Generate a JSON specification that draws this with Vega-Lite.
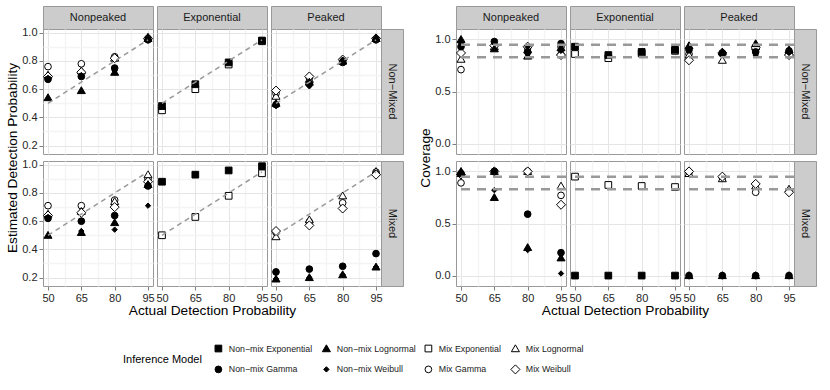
{
"$schema":"https://vega.github.io/schema/vega-lite/v6.json",
"padding":{"left":5,"top":5,"right":2,"bottom":2},
"columns":13,"spacing":0,"bounds":"flush","align":"each",
"resolve":{"scale":{"x":"independent","y":"independent","shape":"shared","fill":"shared","stroke":"shared"}},
"datasets":{
"diag":[{"a":50,"v":0.5},{"a":95,"v":0.95}],
"covl":[{"v":0.95},{"v":0.83}],
"est":[
{"d":"NP","m":"NM","model":"Mix Gamma","a":50,"v":0.76},{"d":"NP","m":"NM","model":"Mix Gamma","a":65,"v":0.78},{"d":"NP","m":"NM","model":"Mix Gamma","a":80,"v":0.83},{"d":"NP","m":"NM","model":"Mix Gamma","a":95,"v":0.96},
{"d":"NP","m":"NM","model":"Mix Lognormal","a":50,"v":0.70},{"d":"NP","m":"NM","model":"Mix Lognormal","a":65,"v":0.73},{"d":"NP","m":"NM","model":"Mix Lognormal","a":80,"v":0.82},{"d":"NP","m":"NM","model":"Mix Lognormal","a":95,"v":0.97},
{"d":"NP","m":"NM","model":"Mix Weibull","a":50,"v":0.69},{"d":"NP","m":"NM","model":"Mix Weibull","a":65,"v":0.72},{"d":"NP","m":"NM","model":"Mix Weibull","a":80,"v":0.82},{"d":"NP","m":"NM","model":"Mix Weibull","a":95,"v":0.96},
{"d":"NP","m":"NM","model":"Non−mix Gamma","a":50,"v":0.67},{"d":"NP","m":"NM","model":"Non−mix Gamma","a":65,"v":0.69},{"d":"NP","m":"NM","model":"Non−mix Gamma","a":80,"v":0.75},{"d":"NP","m":"NM","model":"Non−mix Gamma","a":95,"v":0.95},
{"d":"NP","m":"NM","model":"Non−mix Lognormal","a":50,"v":0.54},{"d":"NP","m":"NM","model":"Non−mix Lognormal","a":65,"v":0.59},{"d":"NP","m":"NM","model":"Non−mix Lognormal","a":80,"v":0.72},{"d":"NP","m":"NM","model":"Non−mix Lognormal","a":95,"v":0.96},
{"d":"NP","m":"NM","model":"Non−mix Weibull","a":50,"v":0.68},{"d":"NP","m":"NM","model":"Non−mix Weibull","a":65,"v":0.70},{"d":"NP","m":"NM","model":"Non−mix Weibull","a":80,"v":0.73},{"d":"NP","m":"NM","model":"Non−mix Weibull","a":95,"v":0.96},
{"d":"NP","m":"MX","model":"Mix Gamma","a":50,"v":0.71},{"d":"NP","m":"MX","model":"Mix Gamma","a":65,"v":0.71},{"d":"NP","m":"MX","model":"Mix Gamma","a":80,"v":0.75},{"d":"NP","m":"MX","model":"Mix Gamma","a":95,"v":0.90},
{"d":"NP","m":"MX","model":"Mix Lognormal","a":50,"v":0.65},{"d":"NP","m":"MX","model":"Mix Lognormal","a":65,"v":0.67},{"d":"NP","m":"MX","model":"Mix Lognormal","a":80,"v":0.74},{"d":"NP","m":"MX","model":"Mix Lognormal","a":95,"v":0.93},
{"d":"NP","m":"MX","model":"Mix Weibull","a":50,"v":0.64},{"d":"NP","m":"MX","model":"Mix Weibull","a":65,"v":0.66},{"d":"NP","m":"MX","model":"Mix Weibull","a":80,"v":0.70},{"d":"NP","m":"MX","model":"Mix Weibull","a":95,"v":0.88},
{"d":"NP","m":"MX","model":"Non−mix Gamma","a":50,"v":0.62},{"d":"NP","m":"MX","model":"Non−mix Gamma","a":65,"v":0.60},{"d":"NP","m":"MX","model":"Non−mix Gamma","a":80,"v":0.64},{"d":"NP","m":"MX","model":"Non−mix Gamma","a":95,"v":0.85},
{"d":"NP","m":"MX","model":"Non−mix Lognormal","a":50,"v":0.50},{"d":"NP","m":"MX","model":"Non−mix Lognormal","a":65,"v":0.52},{"d":"NP","m":"MX","model":"Non−mix Lognormal","a":80,"v":0.59},{"d":"NP","m":"MX","model":"Non−mix Lognormal","a":95,"v":0.86},
{"d":"NP","m":"MX","model":"Non−mix Weibull","a":50,"v":0.63},{"d":"NP","m":"MX","model":"Non−mix Weibull","a":65,"v":0.53},{"d":"NP","m":"MX","model":"Non−mix Weibull","a":80,"v":0.54},{"d":"NP","m":"MX","model":"Non−mix Weibull","a":95,"v":0.71},
{"d":"EX","m":"NM","model":"Mix Exponential","a":50,"v":0.45},{"d":"EX","m":"NM","model":"Mix Exponential","a":65,"v":0.60},{"d":"EX","m":"NM","model":"Mix Exponential","a":80,"v":0.775},{"d":"EX","m":"NM","model":"Mix Exponential","a":95,"v":0.94},
{"d":"EX","m":"NM","model":"Non−mix Exponential","a":50,"v":0.48},{"d":"EX","m":"NM","model":"Non−mix Exponential","a":65,"v":0.635},{"d":"EX","m":"NM","model":"Non−mix Exponential","a":80,"v":0.79},{"d":"EX","m":"NM","model":"Non−mix Exponential","a":95,"v":0.945},
{"d":"EX","m":"MX","model":"Mix Exponential","a":50,"v":0.50},{"d":"EX","m":"MX","model":"Mix Exponential","a":65,"v":0.63},{"d":"EX","m":"MX","model":"Mix Exponential","a":80,"v":0.78},{"d":"EX","m":"MX","model":"Mix Exponential","a":95,"v":0.94},
{"d":"EX","m":"MX","model":"Non−mix Exponential","a":50,"v":0.88},{"d":"EX","m":"MX","model":"Non−mix Exponential","a":65,"v":0.93},{"d":"EX","m":"MX","model":"Non−mix Exponential","a":80,"v":0.96},{"d":"EX","m":"MX","model":"Non−mix Exponential","a":95,"v":0.99},
{"d":"PK","m":"NM","model":"Mix Gamma","a":50,"v":0.57},{"d":"PK","m":"NM","model":"Mix Gamma","a":65,"v":0.68},{"d":"PK","m":"NM","model":"Mix Gamma","a":80,"v":0.80},{"d":"PK","m":"NM","model":"Mix Gamma","a":95,"v":0.955},
{"d":"PK","m":"NM","model":"Mix Lognormal","a":50,"v":0.55},{"d":"PK","m":"NM","model":"Mix Lognormal","a":65,"v":0.67},{"d":"PK","m":"NM","model":"Mix Lognormal","a":80,"v":0.80},{"d":"PK","m":"NM","model":"Mix Lognormal","a":95,"v":0.96},
{"d":"PK","m":"NM","model":"Mix Weibull","a":50,"v":0.59},{"d":"PK","m":"NM","model":"Mix Weibull","a":65,"v":0.69},{"d":"PK","m":"NM","model":"Mix Weibull","a":80,"v":0.81},{"d":"PK","m":"NM","model":"Mix Weibull","a":95,"v":0.96},
{"d":"PK","m":"NM","model":"Non−mix Gamma","a":50,"v":0.49},{"d":"PK","m":"NM","model":"Non−mix Gamma","a":65,"v":0.64},{"d":"PK","m":"NM","model":"Non−mix Gamma","a":80,"v":0.79},{"d":"PK","m":"NM","model":"Non−mix Gamma","a":95,"v":0.95},
{"d":"PK","m":"NM","model":"Non−mix Lognormal","a":50,"v":0.50},{"d":"PK","m":"NM","model":"Non−mix Lognormal","a":65,"v":0.65},{"d":"PK","m":"NM","model":"Non−mix Lognormal","a":80,"v":0.80},{"d":"PK","m":"NM","model":"Non−mix Lognormal","a":95,"v":0.96},
{"d":"PK","m":"NM","model":"Non−mix Weibull","a":50,"v":0.48},{"d":"PK","m":"NM","model":"Non−mix Weibull","a":65,"v":0.62},{"d":"PK","m":"NM","model":"Non−mix Weibull","a":80,"v":0.81},{"d":"PK","m":"NM","model":"Non−mix Weibull","a":95,"v":0.96},
{"d":"PK","m":"MX","model":"Mix Gamma","a":50,"v":0.52},{"d":"PK","m":"MX","model":"Mix Gamma","a":65,"v":0.595},{"d":"PK","m":"MX","model":"Mix Gamma","a":80,"v":0.73},{"d":"PK","m":"MX","model":"Mix Gamma","a":95,"v":0.948},
{"d":"PK","m":"MX","model":"Mix Lognormal","a":50,"v":0.49},{"d":"PK","m":"MX","model":"Mix Lognormal","a":65,"v":0.61},{"d":"PK","m":"MX","model":"Mix Lognormal","a":80,"v":0.78},{"d":"PK","m":"MX","model":"Mix Lognormal","a":95,"v":0.953},
{"d":"PK","m":"MX","model":"Mix Weibull","a":50,"v":0.53},{"d":"PK","m":"MX","model":"Mix Weibull","a":65,"v":0.57},{"d":"PK","m":"MX","model":"Mix Weibull","a":80,"v":0.69},{"d":"PK","m":"MX","model":"Mix Weibull","a":95,"v":0.93},
{"d":"PK","m":"MX","model":"Non−mix Gamma","a":50,"v":0.24},{"d":"PK","m":"MX","model":"Non−mix Gamma","a":65,"v":0.26},{"d":"PK","m":"MX","model":"Non−mix Gamma","a":80,"v":0.28},{"d":"PK","m":"MX","model":"Non−mix Gamma","a":95,"v":0.37},
{"d":"PK","m":"MX","model":"Non−mix Weibull","a":50,"v":0.19},{"d":"PK","m":"MX","model":"Non−mix Weibull","a":65,"v":0.20},{"d":"PK","m":"MX","model":"Non−mix Weibull","a":80,"v":0.22},{"d":"PK","m":"MX","model":"Non−mix Weibull","a":95,"v":0.275},
{"d":"PK","m":"MX","model":"Non−mix Lognormal","a":50,"v":0.19},{"d":"PK","m":"MX","model":"Non−mix Lognormal","a":65,"v":0.20},{"d":"PK","m":"MX","model":"Non−mix Lognormal","a":80,"v":0.22},{"d":"PK","m":"MX","model":"Non−mix Lognormal","a":95,"v":0.275}
],
"cov":[
{"d":"NP","m":"NM","model":"Mix Gamma","a":50,"v":0.71},{"d":"NP","m":"NM","model":"Mix Gamma","a":65,"v":0.94},{"d":"NP","m":"NM","model":"Mix Gamma","a":80,"v":0.92},{"d":"NP","m":"NM","model":"Mix Gamma","a":95,"v":0.93},
{"d":"NP","m":"NM","model":"Mix Lognormal","a":50,"v":0.81},{"d":"NP","m":"NM","model":"Mix Lognormal","a":65,"v":0.93},{"d":"NP","m":"NM","model":"Mix Lognormal","a":80,"v":0.90},{"d":"NP","m":"NM","model":"Mix Lognormal","a":95,"v":0.88},
{"d":"NP","m":"NM","model":"Mix Weibull","a":50,"v":0.87},{"d":"NP","m":"NM","model":"Mix Weibull","a":65,"v":0.94},{"d":"NP","m":"NM","model":"Mix Weibull","a":80,"v":0.93},{"d":"NP","m":"NM","model":"Mix Weibull","a":95,"v":0.85},
{"d":"NP","m":"NM","model":"Non−mix Gamma","a":50,"v":0.93},{"d":"NP","m":"NM","model":"Non−mix Gamma","a":65,"v":0.98},{"d":"NP","m":"NM","model":"Non−mix Gamma","a":80,"v":0.88},{"d":"NP","m":"NM","model":"Non−mix Gamma","a":95,"v":0.96},
{"d":"NP","m":"NM","model":"Non−mix Lognormal","a":50,"v":1.0},{"d":"NP","m":"NM","model":"Non−mix Lognormal","a":65,"v":0.91},{"d":"NP","m":"NM","model":"Non−mix Lognormal","a":80,"v":0.84},{"d":"NP","m":"NM","model":"Non−mix Lognormal","a":95,"v":0.92},
{"d":"NP","m":"NM","model":"Non−mix Weibull","a":50,"v":0.96},{"d":"NP","m":"NM","model":"Non−mix Weibull","a":65,"v":0.96},{"d":"NP","m":"NM","model":"Non−mix Weibull","a":80,"v":0.93},{"d":"NP","m":"NM","model":"Non−mix Weibull","a":95,"v":0.89},
{"d":"NP","m":"MX","model":"Mix Gamma","a":50,"v":0.89},{"d":"NP","m":"MX","model":"Mix Gamma","a":65,"v":1.0},{"d":"NP","m":"MX","model":"Mix Gamma","a":80,"v":1.0},{"d":"NP","m":"MX","model":"Mix Gamma","a":95,"v":0.77},
{"d":"NP","m":"MX","model":"Mix Lognormal","a":50,"v":0.98},{"d":"NP","m":"MX","model":"Mix Lognormal","a":65,"v":1.0},{"d":"NP","m":"MX","model":"Mix Lognormal","a":80,"v":1.0},{"d":"NP","m":"MX","model":"Mix Lognormal","a":95,"v":0.86},
{"d":"NP","m":"MX","model":"Mix Weibull","a":50,"v":0.97},{"d":"NP","m":"MX","model":"Mix Weibull","a":65,"v":1.0},{"d":"NP","m":"MX","model":"Mix Weibull","a":80,"v":1.0},{"d":"NP","m":"MX","model":"Mix Weibull","a":95,"v":0.68},
{"d":"NP","m":"MX","model":"Non−mix Gamma","a":50,"v":0.98},{"d":"NP","m":"MX","model":"Non−mix Gamma","a":65,"v":1.0},{"d":"NP","m":"MX","model":"Non−mix Gamma","a":80,"v":0.59},{"d":"NP","m":"MX","model":"Non−mix Gamma","a":95,"v":0.22},
{"d":"NP","m":"MX","model":"Non−mix Lognormal","a":50,"v":1.0},{"d":"NP","m":"MX","model":"Non−mix Lognormal","a":65,"v":0.75},{"d":"NP","m":"MX","model":"Non−mix Lognormal","a":80,"v":0.27},{"d":"NP","m":"MX","model":"Non−mix Lognormal","a":95,"v":0.17},
{"d":"NP","m":"MX","model":"Non−mix Weibull","a":50,"v":0.99},{"d":"NP","m":"MX","model":"Non−mix Weibull","a":65,"v":0.82},{"d":"NP","m":"MX","model":"Non−mix Weibull","a":80,"v":0.245},{"d":"NP","m":"MX","model":"Non−mix Weibull","a":95,"v":0.02},
{"d":"EX","m":"NM","model":"Mix Exponential","a":50,"v":0.86},{"d":"EX","m":"NM","model":"Mix Exponential","a":65,"v":0.82},{"d":"EX","m":"NM","model":"Mix Exponential","a":80,"v":0.865},{"d":"EX","m":"NM","model":"Mix Exponential","a":95,"v":0.89},
{"d":"EX","m":"NM","model":"Non−mix Exponential","a":50,"v":0.93},{"d":"EX","m":"NM","model":"Non−mix Exponential","a":65,"v":0.85},{"d":"EX","m":"NM","model":"Non−mix Exponential","a":80,"v":0.88},{"d":"EX","m":"NM","model":"Non−mix Exponential","a":95,"v":0.90},
{"d":"EX","m":"MX","model":"Mix Exponential","a":50,"v":0.95},{"d":"EX","m":"MX","model":"Mix Exponential","a":65,"v":0.87},{"d":"EX","m":"MX","model":"Mix Exponential","a":80,"v":0.86},{"d":"EX","m":"MX","model":"Mix Exponential","a":95,"v":0.85},
{"d":"EX","m":"MX","model":"Non−mix Exponential","a":50,"v":0},{"d":"EX","m":"MX","model":"Non−mix Exponential","a":65,"v":0},{"d":"EX","m":"MX","model":"Non−mix Exponential","a":80,"v":0},{"d":"EX","m":"MX","model":"Non−mix Exponential","a":95,"v":0},
{"d":"PK","m":"NM","model":"Mix Gamma","a":50,"v":0.86},{"d":"PK","m":"NM","model":"Mix Gamma","a":65,"v":0.86},{"d":"PK","m":"NM","model":"Mix Gamma","a":80,"v":0.91},{"d":"PK","m":"NM","model":"Mix Gamma","a":95,"v":0.87},
{"d":"PK","m":"NM","model":"Mix Lognormal","a":50,"v":0.85},{"d":"PK","m":"NM","model":"Mix Lognormal","a":65,"v":0.80},{"d":"PK","m":"NM","model":"Mix Lognormal","a":80,"v":0.93},{"d":"PK","m":"NM","model":"Mix Lognormal","a":95,"v":0.88},
{"d":"PK","m":"NM","model":"Mix Weibull","a":50,"v":0.80},{"d":"PK","m":"NM","model":"Mix Weibull","a":65,"v":0.87},{"d":"PK","m":"NM","model":"Mix Weibull","a":80,"v":0.92},{"d":"PK","m":"NM","model":"Mix Weibull","a":95,"v":0.85},
{"d":"PK","m":"NM","model":"Non−mix Gamma","a":50,"v":0.90},{"d":"PK","m":"NM","model":"Non−mix Gamma","a":65,"v":0.87},{"d":"PK","m":"NM","model":"Non−mix Gamma","a":80,"v":0.88},{"d":"PK","m":"NM","model":"Non−mix Gamma","a":95,"v":0.89},
{"d":"PK","m":"NM","model":"Non−mix Lognormal","a":50,"v":0.94},{"d":"PK","m":"NM","model":"Non−mix Lognormal","a":65,"v":0.88},{"d":"PK","m":"NM","model":"Non−mix Lognormal","a":80,"v":0.96},{"d":"PK","m":"NM","model":"Non−mix Lognormal","a":95,"v":0.90},
{"d":"PK","m":"NM","model":"Non−mix Weibull","a":50,"v":0.91},{"d":"PK","m":"NM","model":"Non−mix Weibull","a":65,"v":0.86},{"d":"PK","m":"NM","model":"Non−mix Weibull","a":80,"v":0.85},{"d":"PK","m":"NM","model":"Non−mix Weibull","a":95,"v":0.87},
{"d":"PK","m":"MX","model":"Mix Gamma","a":50,"v":0.99},{"d":"PK","m":"MX","model":"Mix Gamma","a":65,"v":0.94},{"d":"PK","m":"MX","model":"Mix Gamma","a":80,"v":0.80},{"d":"PK","m":"MX","model":"Mix Gamma","a":95,"v":0.81},
{"d":"PK","m":"MX","model":"Mix Lognormal","a":50,"v":0.98},{"d":"PK","m":"MX","model":"Mix Lognormal","a":65,"v":0.93},{"d":"PK","m":"MX","model":"Mix Lognormal","a":80,"v":0.86},{"d":"PK","m":"MX","model":"Mix Lognormal","a":95,"v":0.83},
{"d":"PK","m":"MX","model":"Mix Weibull","a":50,"v":1.0},{"d":"PK","m":"MX","model":"Mix Weibull","a":65,"v":0.95},{"d":"PK","m":"MX","model":"Mix Weibull","a":80,"v":0.88},{"d":"PK","m":"MX","model":"Mix Weibull","a":95,"v":0.80},
{"d":"PK","m":"MX","model":"Non−mix Gamma","a":50,"v":0},{"d":"PK","m":"MX","model":"Non−mix Gamma","a":65,"v":0},{"d":"PK","m":"MX","model":"Non−mix Gamma","a":80,"v":0},{"d":"PK","m":"MX","model":"Non−mix Gamma","a":95,"v":0},
{"d":"PK","m":"MX","model":"Non−mix Weibull","a":50,"v":0},{"d":"PK","m":"MX","model":"Non−mix Weibull","a":65,"v":0},{"d":"PK","m":"MX","model":"Non−mix Weibull","a":80,"v":0},{"d":"PK","m":"MX","model":"Non−mix Weibull","a":95,"v":0},
{"d":"PK","m":"MX","model":"Non−mix Lognormal","a":50,"v":0},{"d":"PK","m":"MX","model":"Non−mix Lognormal","a":65,"v":0},{"d":"PK","m":"MX","model":"Non−mix Lognormal","a":80,"v":0},{"d":"PK","m":"MX","model":"Non−mix Lognormal","a":95,"v":0}
]
},
"concat":[
{"data":{"values":[{"label":"Nonpeaked"}]},"mark":{"type":"text","fontSize":11,"color":"#1a1a1a"},"encoding":{"text":{"field":"label","type":"nominal"}},"width":110,"height":23,"view":{"fill":"#cccccc","stroke":"#999999"}},
{"data":{"values":[]},"mark":"point","width":4,"height":1,"view":{"stroke":null}},
{"data":{"values":[{"label":"Exponential"}]},"mark":{"type":"text","fontSize":11,"color":"#1a1a1a"},"encoding":{"text":{"field":"label","type":"nominal"}},"width":110,"height":23,"view":{"fill":"#cccccc","stroke":"#999999"}},
{"data":{"values":[]},"mark":"point","width":4,"height":1,"view":{"stroke":null}},
{"data":{"values":[{"label":"Peaked"}]},"mark":{"type":"text","fontSize":11,"color":"#1a1a1a"},"encoding":{"text":{"field":"label","type":"nominal"}},"width":110,"height":23,"view":{"fill":"#cccccc","stroke":"#999999"}},
{"data":{"values":[]},"mark":"point","width":22,"height":1,"view":{"stroke":null}},
{"data":{"values":[]},"mark":"point","width":53,"height":1,"view":{"stroke":null}},
{"data":{"values":[{"label":"Nonpeaked"}]},"mark":{"type":"text","fontSize":11,"color":"#1a1a1a"},"encoding":{"text":{"field":"label","type":"nominal"}},"width":110,"height":23,"view":{"fill":"#cccccc","stroke":"#999999"}},
{"data":{"values":[]},"mark":"point","width":4,"height":1,"view":{"stroke":null}},
{"data":{"values":[{"label":"Exponential"}]},"mark":{"type":"text","fontSize":11,"color":"#1a1a1a"},"encoding":{"text":{"field":"label","type":"nominal"}},"width":110,"height":23,"view":{"fill":"#cccccc","stroke":"#999999"}},
{"data":{"values":[]},"mark":"point","width":4,"height":1,"view":{"stroke":null}},
{"data":{"values":[{"label":"Peaked"}]},"mark":{"type":"text","fontSize":11,"color":"#1a1a1a"},"encoding":{"text":{"field":"label","type":"nominal"}},"width":110,"height":23,"view":{"fill":"#cccccc","stroke":"#999999"}},
{"data":{"values":[]},"mark":"point","width":22,"height":1,"view":{"stroke":null}},

{"width":110,"height":125,
 "encoding":{"x":{"field":"a","type":"quantitative","scale":{"domain":[47.75,97.25],"nice":false,"zero":false},"axis":{"values":[50,57.5,65,72.5,80,87.5,95],"labels":false,"ticks":false,"title":null,"gridColor":{"condition":{"test":"datum.value % 15 == 5","value":"#e5e5e5"},"value":"#f4f4f4"},"gridWidth":{"condition":{"test":"datum.value % 15 == 5","value":1},"value":1.5}}},
  "y":{"field":"v","type":"quantitative","scale":{"domain":[0.14,1.027],"nice":false,"zero":false},"axis":{"values":[0.2,0.3,0.4,0.5,0.6,0.7,0.8,0.9,1],"format":".1f","labelExpr":"round(datum.value*10) % 2 == 0 ? datum.label : ''","tickOpacity":{"condition":{"test":"round(datum.value*10) % 2 == 0","value":1},"value":0},"title":"Estimated Detection Probability","titleY":128.5,"gridColor":{"condition":{"test":"round(datum.value*10) % 2 == 0","value":"#e5e5e5"},"value":"#f4f4f4"},"gridWidth":{"condition":{"test":"round(datum.value*10) % 2 == 0","value":1},"value":1.5}}}},
 "layer":[
  {"data":{"name":"est"},"transform":[{"filter":"datum.d=='NP' && datum.m=='NM'"}],"mark":{"type":"point","filled":true,"strokeWidth":1,"opacity":1,"size":45},
   "encoding":{"shape":{"field":"model","type":"nominal","title":"Inference Model","scale":{"domain":["Non−mix Exponential","Non−mix Gamma","Non−mix Lognormal","Non−mix Weibull","Mix Exponential","Mix Gamma","Mix Lognormal","Mix Weibull"],"range":["square","circle","M0,-1.15L1.2,0.9L-1.2,0.9Z","M0,-0.8L0.8,0L0,0.8L-0.8,0Z","square","circle","M0,-1.15L1.2,0.9L-1.2,0.9Z","M0,-1.35L1.35,0L0,1.35L-1.35,0Z"]},"legend":{"orient":"none","legendX":80,"legendY":338}},
    "fill":{"field":"model","type":"nominal","title":"Inference Model","scale":{"domain":["Non−mix Exponential","Non−mix Gamma","Non−mix Lognormal","Non−mix Weibull","Mix Exponential","Mix Gamma","Mix Lognormal","Mix Weibull"],"range":["black","black","black","black","white","white","white","white"]},"legend":{"orient":"none","legendX":80,"legendY":338}},
    "stroke":{"field":"model","type":"nominal","title":"Inference Model","scale":{"domain":["Non−mix Exponential","Non−mix Gamma","Non−mix Lognormal","Non−mix Weibull","Mix Exponential","Mix Gamma","Mix Lognormal","Mix Weibull"],"range":["black","black","black","black","black","black","black","black"]},"legend":{"orient":"none","legendX":80,"legendY":338}}}},
  {"data":{"name":"diag"},"mark":{"type":"line","color":"#999999","strokeWidth":1.5,"strokeDash":[5,4]},"encoding":{}}
 ]},
{"data":{"values":[]},"mark":"point","width":4,"height":1,"view":{"stroke":null}},
{"width":110,"height":125,
 "encoding":{"x":{"field":"a","type":"quantitative","scale":{"domain":[47.75,97.25],"nice":false,"zero":false},"axis":{"values":[50,57.5,65,72.5,80,87.5,95],"labels":false,"ticks":false,"title":null,"gridColor":{"condition":{"test":"datum.value % 15 == 5","value":"#e5e5e5"},"value":"#f4f4f4"},"gridWidth":{"condition":{"test":"datum.value % 15 == 5","value":1},"value":1.5}}},
  "y":{"field":"v","type":"quantitative","scale":{"domain":[0.14,1.027],"nice":false,"zero":false},"axis":{"values":[0.2,0.3,0.4,0.5,0.6,0.7,0.8,0.9,1],"labels":false,"ticks":false,"title":null,"gridColor":{"condition":{"test":"round(datum.value*10) % 2 == 0","value":"#e5e5e5"},"value":"#f4f4f4"},"gridWidth":{"condition":{"test":"round(datum.value*10) % 2 == 0","value":1},"value":1.5}}}},
 "layer":[
  {"data":{"name":"est"},"transform":[{"filter":"datum.d=='EX' && datum.m=='NM'"}],"mark":{"type":"point","filled":true,"strokeWidth":1,"opacity":1,"size":45},
   "encoding":{"shape":{"field":"model","type":"nominal","title":"Inference Model","scale":{"domain":["Non−mix Exponential","Non−mix Gamma","Non−mix Lognormal","Non−mix Weibull","Mix Exponential","Mix Gamma","Mix Lognormal","Mix Weibull"],"range":["square","circle","M0,-1.15L1.2,0.9L-1.2,0.9Z","M0,-0.8L0.8,0L0,0.8L-0.8,0Z","square","circle","M0,-1.15L1.2,0.9L-1.2,0.9Z","M0,-1.35L1.35,0L0,1.35L-1.35,0Z"]},"legend":{"orient":"none","legendX":80,"legendY":338}},
    "fill":{"field":"model","type":"nominal","title":"Inference Model","scale":{"domain":["Non−mix Exponential","Non−mix Gamma","Non−mix Lognormal","Non−mix Weibull","Mix Exponential","Mix Gamma","Mix Lognormal","Mix Weibull"],"range":["black","black","black","black","white","white","white","white"]},"legend":{"orient":"none","legendX":80,"legendY":338}},
    "stroke":{"field":"model","type":"nominal","title":"Inference Model","scale":{"domain":["Non−mix Exponential","Non−mix Gamma","Non−mix Lognormal","Non−mix Weibull","Mix Exponential","Mix Gamma","Mix Lognormal","Mix Weibull"],"range":["black","black","black","black","black","black","black","black"]},"legend":{"orient":"none","legendX":80,"legendY":338}}}},
  {"data":{"name":"diag"},"mark":{"type":"line","color":"#999999","strokeWidth":1.5,"strokeDash":[5,4]},"encoding":{}}
 ]},
{"data":{"values":[]},"mark":"point","width":4,"height":1,"view":{"stroke":null}},
{"width":110,"height":125,
 "encoding":{"x":{"field":"a","type":"quantitative","scale":{"domain":[47.75,97.25],"nice":false,"zero":false},"axis":{"values":[50,57.5,65,72.5,80,87.5,95],"labels":false,"ticks":false,"title":null,"gridColor":{"condition":{"test":"datum.value % 15 == 5","value":"#e5e5e5"},"value":"#f4f4f4"},"gridWidth":{"condition":{"test":"datum.value % 15 == 5","value":1},"value":1.5}}},
  "y":{"field":"v","type":"quantitative","scale":{"domain":[0.14,1.027],"nice":false,"zero":false},"axis":{"values":[0.2,0.3,0.4,0.5,0.6,0.7,0.8,0.9,1],"labels":false,"ticks":false,"title":null,"gridColor":{"condition":{"test":"round(datum.value*10) % 2 == 0","value":"#e5e5e5"},"value":"#f4f4f4"},"gridWidth":{"condition":{"test":"round(datum.value*10) % 2 == 0","value":1},"value":1.5}}}},
 "layer":[
  {"data":{"name":"est"},"transform":[{"filter":"datum.d=='PK' && datum.m=='NM'"}],"mark":{"type":"point","filled":true,"strokeWidth":1,"opacity":1,"size":45},
   "encoding":{"shape":{"field":"model","type":"nominal","title":"Inference Model","scale":{"domain":["Non−mix Exponential","Non−mix Gamma","Non−mix Lognormal","Non−mix Weibull","Mix Exponential","Mix Gamma","Mix Lognormal","Mix Weibull"],"range":["square","circle","M0,-1.15L1.2,0.9L-1.2,0.9Z","M0,-0.8L0.8,0L0,0.8L-0.8,0Z","square","circle","M0,-1.15L1.2,0.9L-1.2,0.9Z","M0,-1.35L1.35,0L0,1.35L-1.35,0Z"]},"legend":{"orient":"none","legendX":80,"legendY":338}},
    "fill":{"field":"model","type":"nominal","title":"Inference Model","scale":{"domain":["Non−mix Exponential","Non−mix Gamma","Non−mix Lognormal","Non−mix Weibull","Mix Exponential","Mix Gamma","Mix Lognormal","Mix Weibull"],"range":["black","black","black","black","white","white","white","white"]},"legend":{"orient":"none","legendX":80,"legendY":338}},
    "stroke":{"field":"model","type":"nominal","title":"Inference Model","scale":{"domain":["Non−mix Exponential","Non−mix Gamma","Non−mix Lognormal","Non−mix Weibull","Mix Exponential","Mix Gamma","Mix Lognormal","Mix Weibull"],"range":["black","black","black","black","black","black","black","black"]},"legend":{"orient":"none","legendX":80,"legendY":338}}}},
  {"data":{"name":"diag"},"mark":{"type":"line","color":"#999999","strokeWidth":1.5,"strokeDash":[5,4]},"encoding":{}}
 ]},
{"data":{"values":[{"label":"Non−Mixed"}]},"mark":{"type":"text","fontSize":11,"color":"#1a1a1a","angle":90},"encoding":{"text":{"field":"label","type":"nominal"}},"width":22,"height":125,"view":{"fill":"#cccccc","stroke":"#999999"}},
{"data":{"values":[]},"mark":"point","width":53,"height":1,"view":{"stroke":null}},
{"width":110,"height":125,
 "layer":[
  {"data":{"name":"cov"},"transform":[{"filter":"datum.d=='NP' && datum.m=='NM'"}],"mark":{"type":"point","filled":true,"strokeWidth":1,"opacity":1,"size":45},
   "encoding":{"x":{"field":"a","type":"quantitative","scale":{"domain":[47.75,97.25],"nice":false,"zero":false},"axis":{"values":[50,57.5,65,72.5,80,87.5,95],"labels":false,"ticks":false,"title":null,"gridColor":{"condition":{"test":"datum.value % 15 == 5","value":"#e5e5e5"},"value":"#f4f4f4"},"gridWidth":{"condition":{"test":"datum.value % 15 == 5","value":1},"value":1.5}}},
    "y":{"field":"v","type":"quantitative","scale":{"domain":[-0.1,1.1],"nice":false,"zero":false},"axis":{"values":[0,0.25,0.5,0.75,1],"format":".1f","labelExpr":"round(datum.value*4) % 2 == 0 ? datum.label : ''","tickOpacity":{"condition":{"test":"round(datum.value*4) % 2 == 0","value":1},"value":0},"title":"Coverage","titleY":128.5,"gridColor":{"condition":{"test":"round(datum.value*4) % 2 == 0","value":"#e5e5e5"},"value":"#f4f4f4"},"gridWidth":{"condition":{"test":"round(datum.value*4) % 2 == 0","value":1},"value":1.5}}},
    "shape":{"field":"model","type":"nominal","title":"Inference Model","scale":{"domain":["Non−mix Exponential","Non−mix Gamma","Non−mix Lognormal","Non−mix Weibull","Mix Exponential","Mix Gamma","Mix Lognormal","Mix Weibull"],"range":["square","circle","M0,-1.15L1.2,0.9L-1.2,0.9Z","M0,-0.8L0.8,0L0,0.8L-0.8,0Z","square","circle","M0,-1.15L1.2,0.9L-1.2,0.9Z","M0,-1.35L1.35,0L0,1.35L-1.35,0Z"]},"legend":{"orient":"none","legendX":80,"legendY":338}},
    "fill":{"field":"model","type":"nominal","title":"Inference Model","scale":{"domain":["Non−mix Exponential","Non−mix Gamma","Non−mix Lognormal","Non−mix Weibull","Mix Exponential","Mix Gamma","Mix Lognormal","Mix Weibull"],"range":["black","black","black","black","white","white","white","white"]},"legend":{"orient":"none","legendX":80,"legendY":338}},
    "stroke":{"field":"model","type":"nominal","title":"Inference Model","scale":{"domain":["Non−mix Exponential","Non−mix Gamma","Non−mix Lognormal","Non−mix Weibull","Mix Exponential","Mix Gamma","Mix Lognormal","Mix Weibull"],"range":["black","black","black","black","black","black","black","black"]},"legend":{"orient":"none","legendX":80,"legendY":338}}}},
  {"data":{"name":"covl"},"mark":{"type":"rule","color":"#999999","strokeWidth":2.5,"strokeDash":[9,7]},"encoding":{"y":{"field":"v","type":"quantitative"}}}
 ]},
{"data":{"values":[]},"mark":"point","width":4,"height":1,"view":{"stroke":null}},
{"width":110,"height":125,
 "layer":[
  {"data":{"name":"cov"},"transform":[{"filter":"datum.d=='EX' && datum.m=='NM'"}],"mark":{"type":"point","filled":true,"strokeWidth":1,"opacity":1,"size":45},
   "encoding":{"x":{"field":"a","type":"quantitative","scale":{"domain":[47.75,97.25],"nice":false,"zero":false},"axis":{"values":[50,57.5,65,72.5,80,87.5,95],"labels":false,"ticks":false,"title":null,"gridColor":{"condition":{"test":"datum.value % 15 == 5","value":"#e5e5e5"},"value":"#f4f4f4"},"gridWidth":{"condition":{"test":"datum.value % 15 == 5","value":1},"value":1.5}}},
    "y":{"field":"v","type":"quantitative","scale":{"domain":[-0.1,1.1],"nice":false,"zero":false},"axis":{"values":[0,0.25,0.5,0.75,1],"labels":false,"ticks":false,"title":null,"gridColor":{"condition":{"test":"round(datum.value*4) % 2 == 0","value":"#e5e5e5"},"value":"#f4f4f4"},"gridWidth":{"condition":{"test":"round(datum.value*4) % 2 == 0","value":1},"value":1.5}}},
    "shape":{"field":"model","type":"nominal","title":"Inference Model","scale":{"domain":["Non−mix Exponential","Non−mix Gamma","Non−mix Lognormal","Non−mix Weibull","Mix Exponential","Mix Gamma","Mix Lognormal","Mix Weibull"],"range":["square","circle","M0,-1.15L1.2,0.9L-1.2,0.9Z","M0,-0.8L0.8,0L0,0.8L-0.8,0Z","square","circle","M0,-1.15L1.2,0.9L-1.2,0.9Z","M0,-1.35L1.35,0L0,1.35L-1.35,0Z"]},"legend":{"orient":"none","legendX":80,"legendY":338}},
    "fill":{"field":"model","type":"nominal","title":"Inference Model","scale":{"domain":["Non−mix Exponential","Non−mix Gamma","Non−mix Lognormal","Non−mix Weibull","Mix Exponential","Mix Gamma","Mix Lognormal","Mix Weibull"],"range":["black","black","black","black","white","white","white","white"]},"legend":{"orient":"none","legendX":80,"legendY":338}},
    "stroke":{"field":"model","type":"nominal","title":"Inference Model","scale":{"domain":["Non−mix Exponential","Non−mix Gamma","Non−mix Lognormal","Non−mix Weibull","Mix Exponential","Mix Gamma","Mix Lognormal","Mix Weibull"],"range":["black","black","black","black","black","black","black","black"]},"legend":{"orient":"none","legendX":80,"legendY":338}}}},
  {"data":{"name":"covl"},"mark":{"type":"rule","color":"#999999","strokeWidth":2.5,"strokeDash":[9,7]},"encoding":{"y":{"field":"v","type":"quantitative"}}}
 ]},
{"data":{"values":[]},"mark":"point","width":4,"height":1,"view":{"stroke":null}},
{"width":110,"height":125,
 "layer":[
  {"data":{"name":"cov"},"transform":[{"filter":"datum.d=='PK' && datum.m=='NM'"}],"mark":{"type":"point","filled":true,"strokeWidth":1,"opacity":1,"size":45},
   "encoding":{"x":{"field":"a","type":"quantitative","scale":{"domain":[47.75,97.25],"nice":false,"zero":false},"axis":{"values":[50,57.5,65,72.5,80,87.5,95],"labels":false,"ticks":false,"title":null,"gridColor":{"condition":{"test":"datum.value % 15 == 5","value":"#e5e5e5"},"value":"#f4f4f4"},"gridWidth":{"condition":{"test":"datum.value % 15 == 5","value":1},"value":1.5}}},
    "y":{"field":"v","type":"quantitative","scale":{"domain":[-0.1,1.1],"nice":false,"zero":false},"axis":{"values":[0,0.25,0.5,0.75,1],"labels":false,"ticks":false,"title":null,"gridColor":{"condition":{"test":"round(datum.value*4) % 2 == 0","value":"#e5e5e5"},"value":"#f4f4f4"},"gridWidth":{"condition":{"test":"round(datum.value*4) % 2 == 0","value":1},"value":1.5}}},
    "shape":{"field":"model","type":"nominal","title":"Inference Model","scale":{"domain":["Non−mix Exponential","Non−mix Gamma","Non−mix Lognormal","Non−mix Weibull","Mix Exponential","Mix Gamma","Mix Lognormal","Mix Weibull"],"range":["square","circle","M0,-1.15L1.2,0.9L-1.2,0.9Z","M0,-0.8L0.8,0L0,0.8L-0.8,0Z","square","circle","M0,-1.15L1.2,0.9L-1.2,0.9Z","M0,-1.35L1.35,0L0,1.35L-1.35,0Z"]},"legend":{"orient":"none","legendX":80,"legendY":338}},
    "fill":{"field":"model","type":"nominal","title":"Inference Model","scale":{"domain":["Non−mix Exponential","Non−mix Gamma","Non−mix Lognormal","Non−mix Weibull","Mix Exponential","Mix Gamma","Mix Lognormal","Mix Weibull"],"range":["black","black","black","black","white","white","white","white"]},"legend":{"orient":"none","legendX":80,"legendY":338}},
    "stroke":{"field":"model","type":"nominal","title":"Inference Model","scale":{"domain":["Non−mix Exponential","Non−mix Gamma","Non−mix Lognormal","Non−mix Weibull","Mix Exponential","Mix Gamma","Mix Lognormal","Mix Weibull"],"range":["black","black","black","black","black","black","black","black"]},"legend":{"orient":"none","legendX":80,"legendY":338}}}},
  {"data":{"name":"covl"},"mark":{"type":"rule","color":"#999999","strokeWidth":2.5,"strokeDash":[9,7]},"encoding":{"y":{"field":"v","type":"quantitative"}}}
 ]},
{"data":{"values":[{"label":"Non−Mixed"}]},"mark":{"type":"text","fontSize":11,"color":"#1a1a1a","angle":90},"encoding":{"text":{"field":"label","type":"nominal"}},"width":22,"height":125,"view":{"fill":"#cccccc","stroke":"#999999"}},

{"data":{"values":[]},"mark":"point","width":1,"height":7,"view":{"stroke":null}},
{"data":{"values":[]},"mark":"point","width":1,"height":7,"view":{"stroke":null}},
{"data":{"values":[]},"mark":"point","width":1,"height":7,"view":{"stroke":null}},
{"data":{"values":[]},"mark":"point","width":1,"height":7,"view":{"stroke":null}},
{"data":{"values":[]},"mark":"point","width":1,"height":7,"view":{"stroke":null}},
{"data":{"values":[]},"mark":"point","width":1,"height":7,"view":{"stroke":null}},
{"data":{"values":[]},"mark":"point","width":1,"height":7,"view":{"stroke":null}},
{"data":{"values":[]},"mark":"point","width":1,"height":7,"view":{"stroke":null}},
{"data":{"values":[]},"mark":"point","width":1,"height":7,"view":{"stroke":null}},
{"data":{"values":[]},"mark":"point","width":1,"height":7,"view":{"stroke":null}},
{"data":{"values":[]},"mark":"point","width":1,"height":7,"view":{"stroke":null}},
{"data":{"values":[]},"mark":"point","width":1,"height":7,"view":{"stroke":null}},
{"data":{"values":[]},"mark":"point","width":1,"height":7,"view":{"stroke":null}},

{"width":110,"height":125,
 "encoding":{"x":{"field":"a","type":"quantitative","scale":{"domain":[47.75,97.25],"nice":false,"zero":false},"axis":{"values":[50,57.5,65,72.5,80,87.5,95],"labelExpr":"datum.value % 15 == 5 ? datum.label : ''","tickOpacity":{"condition":{"test":"datum.value % 15 == 5","value":1},"value":0},"title":null,"gridColor":{"condition":{"test":"datum.value % 15 == 5","value":"#e5e5e5"},"value":"#f4f4f4"},"gridWidth":{"condition":{"test":"datum.value % 15 == 5","value":1},"value":1.5}}},
  "y":{"field":"v","type":"quantitative","scale":{"domain":[0.14,1.027],"nice":false,"zero":false},"axis":{"values":[0.2,0.3,0.4,0.5,0.6,0.7,0.8,0.9,1],"format":".1f","labelExpr":"round(datum.value*10) % 2 == 0 ? datum.label : ''","tickOpacity":{"condition":{"test":"round(datum.value*10) % 2 == 0","value":1},"value":0},"title":null,"gridColor":{"condition":{"test":"round(datum.value*10) % 2 == 0","value":"#e5e5e5"},"value":"#f4f4f4"},"gridWidth":{"condition":{"test":"round(datum.value*10) % 2 == 0","value":1},"value":1.5}}}},
 "layer":[
  {"data":{"name":"est"},"transform":[{"filter":"datum.d=='NP' && datum.m=='MX'"}],"mark":{"type":"point","filled":true,"strokeWidth":1,"opacity":1,"size":45},
   "encoding":{"shape":{"field":"model","type":"nominal","title":"Inference Model","scale":{"domain":["Non−mix Exponential","Non−mix Gamma","Non−mix Lognormal","Non−mix Weibull","Mix Exponential","Mix Gamma","Mix Lognormal","Mix Weibull"],"range":["square","circle","M0,-1.15L1.2,0.9L-1.2,0.9Z","M0,-0.8L0.8,0L0,0.8L-0.8,0Z","square","circle","M0,-1.15L1.2,0.9L-1.2,0.9Z","M0,-1.35L1.35,0L0,1.35L-1.35,0Z"]},"legend":{"orient":"none","legendX":80,"legendY":338}},
    "fill":{"field":"model","type":"nominal","title":"Inference Model","scale":{"domain":["Non−mix Exponential","Non−mix Gamma","Non−mix Lognormal","Non−mix Weibull","Mix Exponential","Mix Gamma","Mix Lognormal","Mix Weibull"],"range":["black","black","black","black","white","white","white","white"]},"legend":{"orient":"none","legendX":80,"legendY":338}},
    "stroke":{"field":"model","type":"nominal","title":"Inference Model","scale":{"domain":["Non−mix Exponential","Non−mix Gamma","Non−mix Lognormal","Non−mix Weibull","Mix Exponential","Mix Gamma","Mix Lognormal","Mix Weibull"],"range":["black","black","black","black","black","black","black","black"]},"legend":{"orient":"none","legendX":80,"legendY":338}}}},
  {"data":{"name":"diag"},"mark":{"type":"line","color":"#999999","strokeWidth":1.5,"strokeDash":[5,4]},"encoding":{}}
 ]},
{"data":{"values":[]},"mark":"point","width":4,"height":1,"view":{"stroke":null}},
{"width":110,"height":125,
 "encoding":{"x":{"field":"a","type":"quantitative","scale":{"domain":[47.75,97.25],"nice":false,"zero":false},"axis":{"values":[50,57.5,65,72.5,80,87.5,95],"labelExpr":"datum.value % 15 == 5 ? datum.label : ''","tickOpacity":{"condition":{"test":"datum.value % 15 == 5","value":1},"value":0},"title":"Actual Detection Probability","titlePadding":0,"gridColor":{"condition":{"test":"datum.value % 15 == 5","value":"#e5e5e5"},"value":"#f4f4f4"},"gridWidth":{"condition":{"test":"datum.value % 15 == 5","value":1},"value":1.5}}},
  "y":{"field":"v","type":"quantitative","scale":{"domain":[0.14,1.027],"nice":false,"zero":false},"axis":{"values":[0.2,0.3,0.4,0.5,0.6,0.7,0.8,0.9,1],"labels":false,"ticks":false,"title":null,"gridColor":{"condition":{"test":"round(datum.value*10) % 2 == 0","value":"#e5e5e5"},"value":"#f4f4f4"},"gridWidth":{"condition":{"test":"round(datum.value*10) % 2 == 0","value":1},"value":1.5}}}},
 "layer":[
  {"data":{"name":"est"},"transform":[{"filter":"datum.d=='EX' && datum.m=='MX'"}],"mark":{"type":"point","filled":true,"strokeWidth":1,"opacity":1,"size":45},
   "encoding":{"shape":{"field":"model","type":"nominal","title":"Inference Model","scale":{"domain":["Non−mix Exponential","Non−mix Gamma","Non−mix Lognormal","Non−mix Weibull","Mix Exponential","Mix Gamma","Mix Lognormal","Mix Weibull"],"range":["square","circle","M0,-1.15L1.2,0.9L-1.2,0.9Z","M0,-0.8L0.8,0L0,0.8L-0.8,0Z","square","circle","M0,-1.15L1.2,0.9L-1.2,0.9Z","M0,-1.35L1.35,0L0,1.35L-1.35,0Z"]},"legend":{"orient":"none","legendX":80,"legendY":338}},
    "fill":{"field":"model","type":"nominal","title":"Inference Model","scale":{"domain":["Non−mix Exponential","Non−mix Gamma","Non−mix Lognormal","Non−mix Weibull","Mix Exponential","Mix Gamma","Mix Lognormal","Mix Weibull"],"range":["black","black","black","black","white","white","white","white"]},"legend":{"orient":"none","legendX":80,"legendY":338}},
    "stroke":{"field":"model","type":"nominal","title":"Inference Model","scale":{"domain":["Non−mix Exponential","Non−mix Gamma","Non−mix Lognormal","Non−mix Weibull","Mix Exponential","Mix Gamma","Mix Lognormal","Mix Weibull"],"range":["black","black","black","black","black","black","black","black"]},"legend":{"orient":"none","legendX":80,"legendY":338}}}},
  {"data":{"name":"diag"},"mark":{"type":"line","color":"#999999","strokeWidth":1.5,"strokeDash":[5,4]},"encoding":{}}
 ]},
{"data":{"values":[]},"mark":"point","width":4,"height":1,"view":{"stroke":null}},
{"width":110,"height":125,
 "encoding":{"x":{"field":"a","type":"quantitative","scale":{"domain":[47.75,97.25],"nice":false,"zero":false},"axis":{"values":[50,57.5,65,72.5,80,87.5,95],"labelExpr":"datum.value % 15 == 5 ? datum.label : ''","tickOpacity":{"condition":{"test":"datum.value % 15 == 5","value":1},"value":0},"title":null,"gridColor":{"condition":{"test":"datum.value % 15 == 5","value":"#e5e5e5"},"value":"#f4f4f4"},"gridWidth":{"condition":{"test":"datum.value % 15 == 5","value":1},"value":1.5}}},
  "y":{"field":"v","type":"quantitative","scale":{"domain":[0.14,1.027],"nice":false,"zero":false},"axis":{"values":[0.2,0.3,0.4,0.5,0.6,0.7,0.8,0.9,1],"labels":false,"ticks":false,"title":null,"gridColor":{"condition":{"test":"round(datum.value*10) % 2 == 0","value":"#e5e5e5"},"value":"#f4f4f4"},"gridWidth":{"condition":{"test":"round(datum.value*10) % 2 == 0","value":1},"value":1.5}}}},
 "layer":[
  {"data":{"name":"est"},"transform":[{"filter":"datum.d=='PK' && datum.m=='MX'"}],"mark":{"type":"point","filled":true,"strokeWidth":1,"opacity":1,"size":45},
   "encoding":{"shape":{"field":"model","type":"nominal","title":"Inference Model","scale":{"domain":["Non−mix Exponential","Non−mix Gamma","Non−mix Lognormal","Non−mix Weibull","Mix Exponential","Mix Gamma","Mix Lognormal","Mix Weibull"],"range":["square","circle","M0,-1.15L1.2,0.9L-1.2,0.9Z","M0,-0.8L0.8,0L0,0.8L-0.8,0Z","square","circle","M0,-1.15L1.2,0.9L-1.2,0.9Z","M0,-1.35L1.35,0L0,1.35L-1.35,0Z"]},"legend":{"orient":"none","legendX":80,"legendY":338}},
    "fill":{"field":"model","type":"nominal","title":"Inference Model","scale":{"domain":["Non−mix Exponential","Non−mix Gamma","Non−mix Lognormal","Non−mix Weibull","Mix Exponential","Mix Gamma","Mix Lognormal","Mix Weibull"],"range":["black","black","black","black","white","white","white","white"]},"legend":{"orient":"none","legendX":80,"legendY":338}},
    "stroke":{"field":"model","type":"nominal","title":"Inference Model","scale":{"domain":["Non−mix Exponential","Non−mix Gamma","Non−mix Lognormal","Non−mix Weibull","Mix Exponential","Mix Gamma","Mix Lognormal","Mix Weibull"],"range":["black","black","black","black","black","black","black","black"]},"legend":{"orient":"none","legendX":80,"legendY":338}}}},
  {"data":{"name":"diag"},"mark":{"type":"line","color":"#999999","strokeWidth":1.5,"strokeDash":[5,4]},"encoding":{}}
 ]},
{"data":{"values":[{"label":"Mixed"}]},"mark":{"type":"text","fontSize":11,"color":"#1a1a1a","angle":90},"encoding":{"text":{"field":"label","type":"nominal"}},"width":22,"height":125,"view":{"fill":"#cccccc","stroke":"#999999"}},
{"data":{"values":[]},"mark":"point","width":53,"height":1,"view":{"stroke":null}},
{"width":110,"height":125,
 "layer":[
  {"data":{"name":"cov"},"transform":[{"filter":"datum.d=='NP' && datum.m=='MX'"}],"mark":{"type":"point","filled":true,"strokeWidth":1,"opacity":1,"size":45},
   "encoding":{"x":{"field":"a","type":"quantitative","scale":{"domain":[47.75,97.25],"nice":false,"zero":false},"axis":{"values":[50,57.5,65,72.5,80,87.5,95],"labelExpr":"datum.value % 15 == 5 ? datum.label : ''","tickOpacity":{"condition":{"test":"datum.value % 15 == 5","value":1},"value":0},"title":null,"gridColor":{"condition":{"test":"datum.value % 15 == 5","value":"#e5e5e5"},"value":"#f4f4f4"},"gridWidth":{"condition":{"test":"datum.value % 15 == 5","value":1},"value":1.5}}},
    "y":{"field":"v","type":"quantitative","scale":{"domain":[-0.1,1.1],"nice":false,"zero":false},"axis":{"values":[0,0.25,0.5,0.75,1],"format":".1f","labelExpr":"round(datum.value*4) % 2 == 0 ? datum.label : ''","tickOpacity":{"condition":{"test":"round(datum.value*4) % 2 == 0","value":1},"value":0},"title":null,"gridColor":{"condition":{"test":"round(datum.value*4) % 2 == 0","value":"#e5e5e5"},"value":"#f4f4f4"},"gridWidth":{"condition":{"test":"round(datum.value*4) % 2 == 0","value":1},"value":1.5}}},
    "shape":{"field":"model","type":"nominal","title":"Inference Model","scale":{"domain":["Non−mix Exponential","Non−mix Gamma","Non−mix Lognormal","Non−mix Weibull","Mix Exponential","Mix Gamma","Mix Lognormal","Mix Weibull"],"range":["square","circle","M0,-1.15L1.2,0.9L-1.2,0.9Z","M0,-0.8L0.8,0L0,0.8L-0.8,0Z","square","circle","M0,-1.15L1.2,0.9L-1.2,0.9Z","M0,-1.35L1.35,0L0,1.35L-1.35,0Z"]},"legend":{"orient":"none","legendX":80,"legendY":338}},
    "fill":{"field":"model","type":"nominal","title":"Inference Model","scale":{"domain":["Non−mix Exponential","Non−mix Gamma","Non−mix Lognormal","Non−mix Weibull","Mix Exponential","Mix Gamma","Mix Lognormal","Mix Weibull"],"range":["black","black","black","black","white","white","white","white"]},"legend":{"orient":"none","legendX":80,"legendY":338}},
    "stroke":{"field":"model","type":"nominal","title":"Inference Model","scale":{"domain":["Non−mix Exponential","Non−mix Gamma","Non−mix Lognormal","Non−mix Weibull","Mix Exponential","Mix Gamma","Mix Lognormal","Mix Weibull"],"range":["black","black","black","black","black","black","black","black"]},"legend":{"orient":"none","legendX":80,"legendY":338}}}},
  {"data":{"name":"covl"},"mark":{"type":"rule","color":"#999999","strokeWidth":2.5,"strokeDash":[9,7]},"encoding":{"y":{"field":"v","type":"quantitative"}}}
 ]},
{"data":{"values":[]},"mark":"point","width":4,"height":1,"view":{"stroke":null}},
{"width":110,"height":125,
 "layer":[
  {"data":{"name":"cov"},"transform":[{"filter":"datum.d=='EX' && datum.m=='MX'"}],"mark":{"type":"point","filled":true,"strokeWidth":1,"opacity":1,"size":45},
   "encoding":{"x":{"field":"a","type":"quantitative","scale":{"domain":[47.75,97.25],"nice":false,"zero":false},"axis":{"values":[50,57.5,65,72.5,80,87.5,95],"labelExpr":"datum.value % 15 == 5 ? datum.label : ''","tickOpacity":{"condition":{"test":"datum.value % 15 == 5","value":1},"value":0},"title":"Actual Detection Probability","titlePadding":0,"gridColor":{"condition":{"test":"datum.value % 15 == 5","value":"#e5e5e5"},"value":"#f4f4f4"},"gridWidth":{"condition":{"test":"datum.value % 15 == 5","value":1},"value":1.5}}},
    "y":{"field":"v","type":"quantitative","scale":{"domain":[-0.1,1.1],"nice":false,"zero":false},"axis":{"values":[0,0.25,0.5,0.75,1],"labels":false,"ticks":false,"title":null,"gridColor":{"condition":{"test":"round(datum.value*4) % 2 == 0","value":"#e5e5e5"},"value":"#f4f4f4"},"gridWidth":{"condition":{"test":"round(datum.value*4) % 2 == 0","value":1},"value":1.5}}},
    "shape":{"field":"model","type":"nominal","title":"Inference Model","scale":{"domain":["Non−mix Exponential","Non−mix Gamma","Non−mix Lognormal","Non−mix Weibull","Mix Exponential","Mix Gamma","Mix Lognormal","Mix Weibull"],"range":["square","circle","M0,-1.15L1.2,0.9L-1.2,0.9Z","M0,-0.8L0.8,0L0,0.8L-0.8,0Z","square","circle","M0,-1.15L1.2,0.9L-1.2,0.9Z","M0,-1.35L1.35,0L0,1.35L-1.35,0Z"]},"legend":{"orient":"none","legendX":80,"legendY":338}},
    "fill":{"field":"model","type":"nominal","title":"Inference Model","scale":{"domain":["Non−mix Exponential","Non−mix Gamma","Non−mix Lognormal","Non−mix Weibull","Mix Exponential","Mix Gamma","Mix Lognormal","Mix Weibull"],"range":["black","black","black","black","white","white","white","white"]},"legend":{"orient":"none","legendX":80,"legendY":338}},
    "stroke":{"field":"model","type":"nominal","title":"Inference Model","scale":{"domain":["Non−mix Exponential","Non−mix Gamma","Non−mix Lognormal","Non−mix Weibull","Mix Exponential","Mix Gamma","Mix Lognormal","Mix Weibull"],"range":["black","black","black","black","black","black","black","black"]},"legend":{"orient":"none","legendX":80,"legendY":338}}}},
  {"data":{"name":"covl"},"mark":{"type":"rule","color":"#999999","strokeWidth":2.5,"strokeDash":[9,7]},"encoding":{"y":{"field":"v","type":"quantitative"}}}
 ]},
{"data":{"values":[]},"mark":"point","width":4,"height":1,"view":{"stroke":null}},
{"width":110,"height":125,
 "layer":[
  {"data":{"name":"cov"},"transform":[{"filter":"datum.d=='PK' && datum.m=='MX'"}],"mark":{"type":"point","filled":true,"strokeWidth":1,"opacity":1,"size":45},
   "encoding":{"x":{"field":"a","type":"quantitative","scale":{"domain":[47.75,97.25],"nice":false,"zero":false},"axis":{"values":[50,57.5,65,72.5,80,87.5,95],"labelExpr":"datum.value % 15 == 5 ? datum.label : ''","tickOpacity":{"condition":{"test":"datum.value % 15 == 5","value":1},"value":0},"title":null,"gridColor":{"condition":{"test":"datum.value % 15 == 5","value":"#e5e5e5"},"value":"#f4f4f4"},"gridWidth":{"condition":{"test":"datum.value % 15 == 5","value":1},"value":1.5}}},
    "y":{"field":"v","type":"quantitative","scale":{"domain":[-0.1,1.1],"nice":false,"zero":false},"axis":{"values":[0,0.25,0.5,0.75,1],"labels":false,"ticks":false,"title":null,"gridColor":{"condition":{"test":"round(datum.value*4) % 2 == 0","value":"#e5e5e5"},"value":"#f4f4f4"},"gridWidth":{"condition":{"test":"round(datum.value*4) % 2 == 0","value":1},"value":1.5}}},
    "shape":{"field":"model","type":"nominal","title":"Inference Model","scale":{"domain":["Non−mix Exponential","Non−mix Gamma","Non−mix Lognormal","Non−mix Weibull","Mix Exponential","Mix Gamma","Mix Lognormal","Mix Weibull"],"range":["square","circle","M0,-1.15L1.2,0.9L-1.2,0.9Z","M0,-0.8L0.8,0L0,0.8L-0.8,0Z","square","circle","M0,-1.15L1.2,0.9L-1.2,0.9Z","M0,-1.35L1.35,0L0,1.35L-1.35,0Z"]},"legend":{"orient":"none","legendX":80,"legendY":338}},
    "fill":{"field":"model","type":"nominal","title":"Inference Model","scale":{"domain":["Non−mix Exponential","Non−mix Gamma","Non−mix Lognormal","Non−mix Weibull","Mix Exponential","Mix Gamma","Mix Lognormal","Mix Weibull"],"range":["black","black","black","black","white","white","white","white"]},"legend":{"orient":"none","legendX":80,"legendY":338}},
    "stroke":{"field":"model","type":"nominal","title":"Inference Model","scale":{"domain":["Non−mix Exponential","Non−mix Gamma","Non−mix Lognormal","Non−mix Weibull","Mix Exponential","Mix Gamma","Mix Lognormal","Mix Weibull"],"range":["black","black","black","black","black","black","black","black"]},"legend":{"orient":"none","legendX":80,"legendY":338}}}},
  {"data":{"name":"covl"},"mark":{"type":"rule","color":"#999999","strokeWidth":2.5,"strokeDash":[9,7]},"encoding":{"y":{"field":"v","type":"quantitative"}}}
 ]},
{"data":{"values":[{"label":"Mixed"}]},"mark":{"type":"text","fontSize":11,"color":"#1a1a1a","angle":90},"encoding":{"text":{"field":"label","type":"nominal"}},"width":22,"height":125,"view":{"fill":"#cccccc","stroke":"#999999"}}
],
"config":{
 "font":"Liberation Sans",
 "view":{"stroke":"#999999","strokeWidth":1},
 "axis":{"domain":false,"tickColor":"#7f7f7f","tickSize":4,"labelFontSize":11,"labelColor":"#262626","labelPadding":2,"titleFontSize":13.7,"titleFontWeight":"normal","titleColor":"#000000","titlePadding":2},
 "legend":{"columns":4,"titleOrient":"left","titleAnchor":"middle","titleFontSize":11,"titleFontWeight":"normal","titleColor":"#000000","titlePadding":12,"labelFontSize":8.8,"labelColor":"#1a1a1a","labelLimit":300,"labelOffset":6,"symbolStrokeWidth":1,"symbolSize":45,"rowPadding":8,"columnPadding":7}
}
}
